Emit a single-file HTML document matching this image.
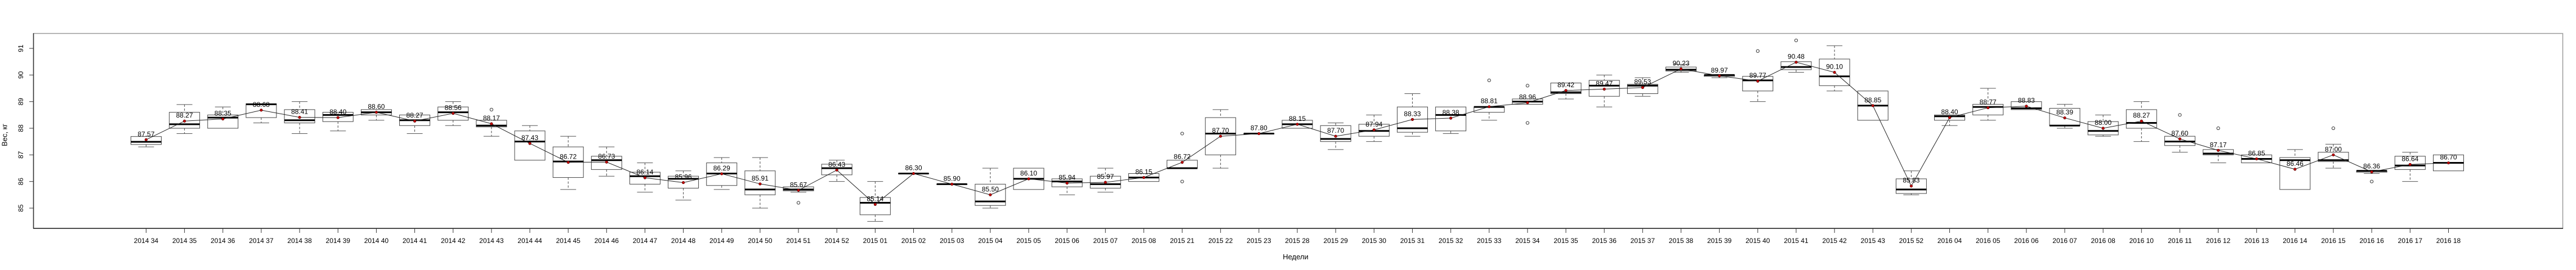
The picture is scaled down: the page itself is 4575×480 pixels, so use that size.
<!DOCTYPE html>
<html><head><meta charset="utf-8">
<style>
html,body{margin:0;padding:0;background:#fff;}
svg{display:block;font-family:"Liberation Sans",sans-serif;}
</style></head>
<body>
<svg id="chart" width="4575" height="480" viewBox="0 0 4575 480" xmlns="http://www.w3.org/2000/svg">
<rect x="0" y="0" width="4575" height="480" fill="#fff"/>
<rect x="59.5" y="59.5" width="4492" height="346.5" fill="none" stroke="#9a9a9a" stroke-width="1.5"/>
<g id="yaxis"></g>
<g id="xaxis"></g>
<g id="boxes"></g>
<g id="meanline"></g>
<g id="labels"></g>
<text x="9" y="240" transform="rotate(-90 9 240)" text-anchor="middle" dominant-baseline="middle" font-size="13" fill="#000">Вес, кг</text>
<text x="2301" y="461" text-anchor="middle" font-size="13" fill="#000">Недели</text>
</svg>
<script>
const categories = ["2014 34","2014 35","2014 36","2014 37","2014 38","2014 39","2014 40","2014 41","2014 42","2014 43","2014 44","2014 45","2014 46","2014 47","2014 48","2014 49","2014 50","2014 51","2014 52","2015 01","2015 02","2015 03","2015 04","2015 05","2015 06","2015 07","2015 08","2015 21","2015 22","2015 23","2015 28","2015 29","2015 30","2015 31","2015 32","2015 33","2015 34","2015 35","2015 36","2015 37","2015 38","2015 39","2015 40","2015 41","2015 42","2015 43","2015 52","2016 04","2016 05","2016 06","2016 07","2016 08","2016 10","2016 11","2016 12","2016 13","2016 14","2016 15","2016 16","2016 17","2016 18"];
const whiskerLow = [87.3,87.8,88.0,88.2,87.8,87.9,88.3,87.8,88.1,87.7,86.8,85.7,86.2,85.6,85.3,85.7,85.0,85.6,86.0,84.5,86.3,85.9,85.0,85.7,85.5,85.6,86.0,86.5,86.5,87.8,88.0,87.2,87.5,87.7,87.8,88.3,88.9,89.1,88.8,89.2,90.1,89.9,89.0,90.1,89.4,88.3,85.5,88.1,88.3,88.7,88.0,87.7,87.5,87.1,86.7,86.7,85.7,86.5,86.3,86.0,86.4];
const q1 = [87.39,88.0,88.0,88.4,88.2,88.25,88.5,88.1,88.3,88.05,86.8,86.15,86.45,85.9,85.75,85.85,85.5,85.65,86.25,84.75,86.3,85.9,85.1,85.7,85.8,85.75,86.0,86.5,87.0,87.8,88.0,87.5,87.7,87.85,87.9,88.6,88.9,89.3,89.2,89.3,90.15,89.95,89.4,90.2,89.6,88.3,85.55,88.3,88.5,88.7,88.1,87.75,88.0,87.35,87.0,86.7,85.7,86.75,86.35,86.45,86.4];
const medians = [87.49,88.15,88.4,88.9,88.3,88.5,88.6,88.3,88.6,88.1,87.5,86.75,86.8,86.2,86.1,86.3,85.7,85.7,86.5,85.2,86.3,85.9,85.25,86.1,86.0,85.9,86.15,86.5,87.8,87.8,88.15,87.6,87.9,88.0,88.5,88.8,89.0,89.35,89.6,89.6,90.2,90.0,89.8,90.3,89.95,88.85,85.7,88.45,88.8,88.75,88.1,87.9,88.2,87.5,87.05,86.85,86.8,86.8,86.4,86.6,86.7];
const q3 = [87.69,88.6,88.5,88.92,88.7,88.6,88.7,88.5,88.8,88.3,87.9,87.3,86.95,86.35,86.2,86.7,86.4,85.8,86.65,85.4,86.3,85.9,85.9,86.5,86.1,86.2,86.3,86.8,88.4,87.8,88.3,88.1,88.15,88.8,88.8,88.8,89.1,89.7,89.8,89.65,90.3,90.0,89.95,90.5,90.6,89.4,86.1,88.5,88.9,89.0,88.75,88.25,88.7,87.7,87.2,87.0,86.9,87.1,86.4,86.95,87.0];
const whiskerHigh = [87.69,88.89,88.8,88.92,89.0,88.6,88.7,88.5,89.0,88.3,88.1,87.7,87.3,86.7,86.4,86.9,86.9,85.8,86.8,86.0,86.3,85.9,86.5,86.5,86.1,86.5,86.3,86.8,88.7,87.8,88.3,88.2,88.5,89.3,88.8,88.8,89.1,89.7,90.0,89.9,90.4,90.0,89.95,90.5,91.1,89.4,86.4,88.5,89.5,89.0,88.9,88.5,89.0,87.7,87.2,87.0,87.2,87.4,86.4,87.1,87.0];
const means = [87.57,88.27,88.35,88.68,88.41,88.40,88.60,88.27,88.56,88.17,87.43,86.72,86.73,86.14,85.96,86.29,85.91,85.67,86.43,85.14,86.30,85.90,85.50,86.10,85.94,85.97,86.15,86.72,87.70,87.80,88.15,87.70,87.94,88.33,88.38,88.81,88.96,89.42,89.47,89.53,90.23,89.97,89.77,90.48,90.10,88.85,85.83,88.40,88.77,88.83,88.39,88.00,88.27,87.60,87.17,86.85,86.46,87.00,86.36,86.64,86.70];
const meanLabels = ["87.57","88.27","88.35","88.68","88.41","88.40","88.60","88.27","88.56","88.17","87.43","86.72","86.73","86.14","85.96","86.29","85.91","85.67","86.43","85.14","86.30","85.90","85.50","86.10","85.94","85.97","86.15","86.72","87.70","87.80","88.15","87.70","87.94","88.33","88.38","88.81","88.96","89.42","89.47","89.53","90.23","89.97","89.77","90.48","90.10","88.85","85.83","88.40","88.77","88.83","88.39","88.00","88.27","87.60","87.17","86.85","86.46","87.00","86.36","86.64","86.70"];
const outlierIndex = [9,17,27,27,35,36,36,42,43,53,54,57,58];
const outlierValues = [88.7,85.2,87.8,86.0,89.8,89.6,88.2,90.9,91.3,88.5,88.0,88.0,86.0];
const yTicks = [85,86,87,88,89,90,91];

const NS="http://www.w3.org/2000/svg";
function xScale(i){return 259.5 + i*68.15;}
function yScale(v){return 370 - (v-85)*47.33;}
function mk(tag,attrs,parent){const e=document.createElementNS(NS,tag);for(const k in attrs)e.setAttribute(k,attrs[k]);parent.appendChild(e);return e;}

const yaxis=document.getElementById('yaxis');
const la=mk('line',{x1:59.5,y1:59,x2:59.5,y2:406,stroke:'#333','stroke-width':1.5},yaxis);


yTicks.forEach(t=>{
  const y=yScale(t);
  const tk=mk('line',{x1:52,y1:y,x2:59.5,y2:y,stroke:'#333','stroke-width':1},yaxis);
  
  
  const tx=mk('text',{x:38,y:y,transform:`rotate(-90 38 ${y})`,'text-anchor':'middle','dominant-baseline':'middle','font-size':12,fill:'#000'},yaxis);
  tx.textContent=String(t);
  
  
});

const xaxis=document.getElementById('xaxis');
const lb=mk('line',{x1:59,y1:406,x2:4552,y2:406,stroke:'#222','stroke-width':1.5},xaxis);


categories.forEach((c,i)=>{
  const x=xScale(i);
  const tk=mk('line',{x1:x,y1:406,x2:x,y2:414,stroke:'#333','stroke-width':1},xaxis);
  
  
  const tx=mk('text',{x:x,y:432,'text-anchor':'middle','font-size':12,fill:'#000'},xaxis);
  tx.textContent=c;
  
  
});

const boxes=document.getElementById('boxes');
const hw=27, cw=14;
categories.forEach((c,i)=>{
  const x=xScale(i);
  const g=mk('g',{},boxes);
  
  
  const yl=yScale(whiskerLow[i]), y1=yScale(q1[i]), ym=yScale(medians[i]), y3=yScale(q3[i]), yh=yScale(whiskerHigh[i]);
  if(yh<y3){mk('line',{x1:x,y1:yh,x2:x,y2:y3,stroke:'#444','stroke-dasharray':'4,3'},g);mk('line',{x1:x-cw,y1:yh,x2:x+cw,y2:yh,stroke:'#555'},g);}
  if(yl>y1){mk('line',{x1:x,y1:y1,x2:x,y2:yl,stroke:'#444','stroke-dasharray':'4,3'},g);mk('line',{x1:x-cw,y1:yl,x2:x+cw,y2:yl,stroke:'#555'},g);}
  mk('rect',{x:x-hw,y:y3,width:hw*2,height:Math.max(y1-y3,0.5),fill:'none',stroke:'#444','stroke-width':1},g);
  mk('line',{x1:x-hw,y1:ym,x2:x+hw,y2:ym,stroke:'#000','stroke-width':3},g);
});
outlierIndex.forEach((idx,k)=>{
  const c=mk('circle',{cx:xScale(idx),cy:yScale(outlierValues[k]),r:2.6,fill:'none',stroke:'#333','stroke-width':1},boxes);
  
  
});

const ml=document.getElementById('meanline');
const pts=means.map((m,i)=>xScale(i)+','+yScale(m)).join(' ');
const pl=mk('polyline',{points:pts,fill:'none',stroke:'#222','stroke-width':1},ml);


means.forEach((m,i)=>{
  const d=mk('circle',{cx:xScale(i),cy:yScale(m),r:2.3,fill:'#c00000',stroke:'#400','stroke-width':0.6},ml);
  
  
});

const labels=document.getElementById('labels');
meanLabels.forEach((t,i)=>{
  const tx=mk('text',{x:xScale(i),y:yScale(means[i])-6,'text-anchor':'middle','font-size':12,fill:'#000'},labels);
  tx.textContent=t;
  
  
});
</script>
</body></html>
